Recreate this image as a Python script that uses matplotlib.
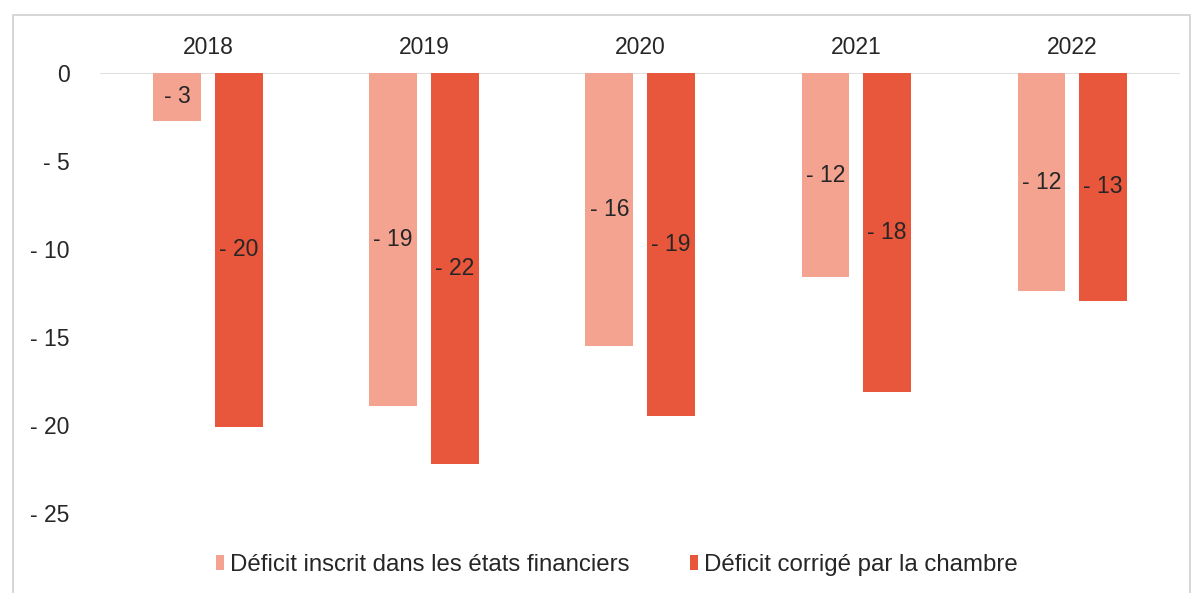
import matplotlib
matplotlib.use("Agg")
import matplotlib.pyplot as plt
import numpy as np
from matplotlib.patches import Rectangle

plt.rcParams['font.family'] = ['Liberation Sans', 'DejaVu Sans']

# data (millions)
years = ["2018", "2019", "2020", "2021", "2022"]
inscrit = [-2.7, -18.9, -15.5, -11.6, -12.4]
corrige = [-20.1, -22.2, -19.5, -18.1, -12.95]
lbl_inscrit = [-3, -19, -16, -12, -12]
lbl_corrige = [-20, -22, -19, -18, -13]
yticks = [0, -5, -10, -15, -20, -25]

c_light = "#F5A391"
c_dark = "#E8563B"
txt = "#262626"
fs = 16.5

fig = plt.figure(figsize=(11.95, 5.93), dpi=100)
ax = fig.add_axes([0.0837, 0.1052, 0.904, 0.7717])

x = np.arange(len(years))
w = 0.22
off = 0.143
b1 = ax.bar(x - off, inscrit, w, color=c_light, label="Déficit inscrit dans les états financiers")
b2 = ax.bar(x + off, corrige, w, color=c_dark, label="Déficit corrigé par la chambre")

for i in range(len(years)):
    ax.text(x[i] - off, inscrit[i] / 2, "- %d" % abs(lbl_inscrit[i]), ha="center", va="center",
            fontsize=fs, color=txt)
    ax.text(x[i] + off, corrige[i] / 2, "- %d" % abs(lbl_corrige[i]), ha="center", va="center",
            fontsize=fs, color=txt)

ax.set_xlim(-0.5, len(years) - 0.5)
ax.set_ylim(-26, 0)
ax.axhline(0, color="#d9d9d9", lw=1.2, zorder=0)

ax.set_yticks(yticks)
ax.set_yticklabels(["0" if v == 0 else "- %d" % abs(v) for v in yticks], fontsize=fs, color=txt)
ax.tick_params(axis="y", length=0, pad=22)

ax.xaxis.tick_top()
ax.set_xticks(x)
ax.set_xticklabels(years, fontsize=fs, color=txt)
ax.tick_params(axis="x", length=0, pad=10)

for s in ax.spines.values():
    s.set_visible(False)

# outer frame
fig.patches.append(Rectangle((13 / 1195, -0.01), 1177 / 1195, 1 - 15 / 593 + 0.01,
                             transform=fig.transFigure, fill=False, edgecolor="#d0d0d0", lw=1.2))

fig.legend(handles=[b1, b2], loc="center", bbox_to_anchor=(0.516, 1 - 565 / 593), ncol=2,
           frameon=False, fontsize=17.3, handlelength=0.35, handleheight=0.55, handletextpad=0.25,
           columnspacing=2.5, labelcolor=txt)

fig.savefig("out.png", dpi=100)
